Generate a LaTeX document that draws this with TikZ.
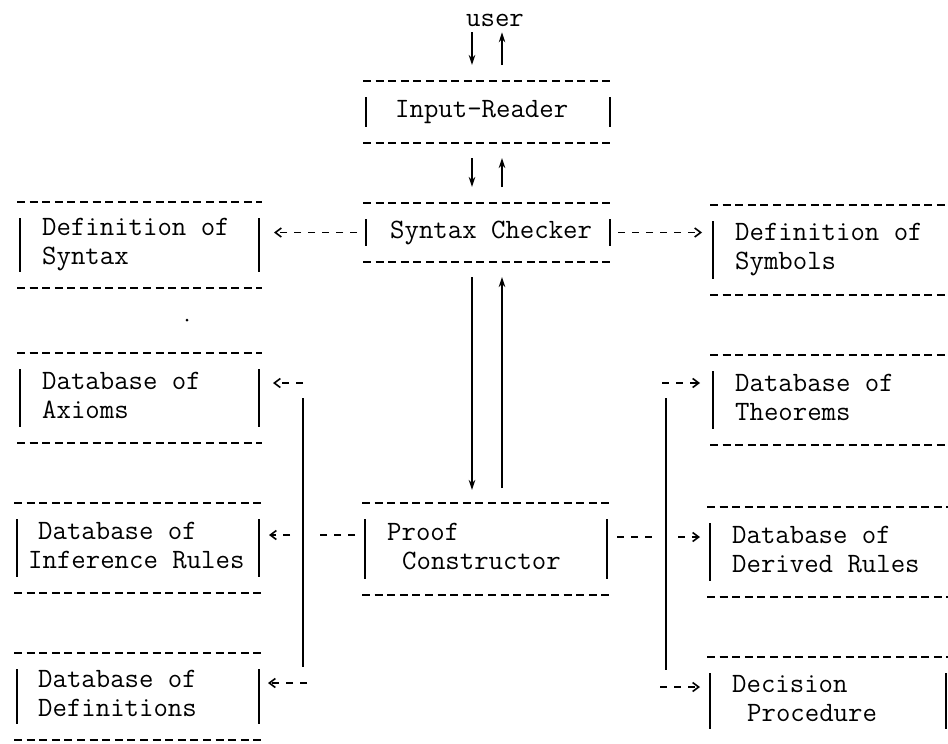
\documentclass[tikz,border=0pt]{standalone}
\usepackage{fontspec}
\usetikzlibrary{arrows.meta,calc}
\newcommand\stru{\rule[-6pt]{0pt}{23pt}}
\begin{document}
\begin{tikzpicture}[x=1pt,y=-1pt,
  abox/.style={inner sep=0pt, outer sep=0pt},
  dline/.style={line width=2pt, dash pattern=on 8pt off 4.6pt},
  bar/.style={line width=1.4pt},
  lbl/.style={inner sep=0pt, anchor=west, align=left, font=\ttfamily\fontsize{28}{29}\selectfont},
  darr/.style={line width=1.8pt, dash pattern=on 7pt off 7pt, -{Straight Barb[length=6pt,width=9pt,line width=1.6pt]}},
  dseg/.style={line width=1.8pt, dash pattern=on 7pt off 7pt},
  sarr/.style={line width=1.3pt, -{Stealth[length=10pt,width=6.5pt]}},
  bus/.style={line width=1.4pt}
]
\useasboundingbox (0,0) rectangle (948,744);
\clip (0,0) rectangle (948,744);

% boxes
\node[abox, minimum width=250, minimum height=62] (ir)   at (488,112)   {};
\node[abox, minimum width=250, minimum height=59] (sc)   at (488,232.5) {};
\node[abox, minimum width=248, minimum height=92] (pc)   at (486,549)   {};
\node[abox, minimum width=245, minimum height=86] (dsyn) at (139.5,245) {};
\node[abox, minimum width=245, minimum height=90] (ax)   at (139.5,398) {};
\node[abox, minimum width=248, minimum height=90] (inf)  at (138,548)   {};
\node[abox, minimum width=248, minimum height=87] (defs) at (138,696.5) {};
\node[abox, minimum width=245, minimum height=90] (sym)  at (832.5,250) {};
\node[abox, minimum width=245, minimum height=90] (thm)  at (832.5,400) {};
\node[abox, minimum width=248, minimum height=90] (der)  at (831,552)   {};
\node[abox, minimum width=242, minimum height=88] (dec)  at (828,701)   {};

\foreach \n in {ir,sc,pc,dsyn,ax,inf,defs,sym,thm,der,dec} {
  \draw[dline] (\n.north west) -- (\n.north east) (\n.south west) -- (\n.south east);
  \draw[bar] ([shift={(3,16)}]\n.north west) -- ([shift={(3,-16)}]\n.south west)
             ([shift={(-3,16)}]\n.north east) -- ([shift={(-3,-16)}]\n.south east);
}

% texts
\node[lbl, anchor=base] (ur) at (495,27) {user};
\node[lbl] (ir-t)   at ([shift={(32,0)}]ir.west)   {\stru Input-Reader};
\node[lbl] (sc-t)   at ([shift={(27,0)}]sc.west)   {\stru Syntax Checker};
\node[lbl] (pc-t)   at ([shift={(25,0)}]pc.west)   {\stru Proof\\\stru\hspace*{15pt}Constructor};
\node[lbl] (dsyn-t) at ([shift={(25,0)}]dsyn.west) {\stru Definition of\\\stru Syntax};
\node[lbl] (ax-t)   at ([shift={(25,0)}]ax.west)   {\stru Database of\\\stru Axioms};
\node[lbl] (inf-t)  at ([shift={(14,0)}]inf.west)  {\stru\hspace*{10pt}Database of\\\stru Inference Rules};
\node[lbl] (defs-t) at ([shift={(24,0)}]defs.west) {\stru Database of\\\stru Definitions};
\node[lbl] (sym-t)  at ([shift={(25,0)}]sym.west)  {\stru Definition of\\\stru Symbols};
\node[lbl] (thm-t)  at ([shift={(25,0)}]thm.west)  {\stru Database of\\\stru Theorems};
\node[lbl] (der-t)  at ([shift={(25,0)}]der.west)  {\stru Database of\\\stru Derived Rules};
\node[lbl] (dec-t)  at ([shift={(25,0)}]dec.west)  {\stru Decision\\\stru\hspace*{15pt}Procedure};

\node[circle, fill, inner sep=0pt, minimum size=3pt] (speck) at (187,320) {};

% solid vertical arrows
\coordinate (ca) at ([shift={(-16,0)}]sc.center);
\coordinate (cb) at ([shift={(14,0)}]sc.center);
\draw[sarr, shorten <=5pt, shorten >=16pt] (ca |- ur.south) -- (ca |- ir.north);
\draw[sarr, shorten <=16pt, shorten >=5pt] (cb |- ir.north) -- (cb |- ur.south);
\draw[sarr, shorten <=15pt, shorten >=16pt] (ca |- ir.south) -- (ca |- sc.north);
\draw[sarr, shorten <=16pt, shorten >=15pt] (cb |- sc.north) -- (cb |- ir.south);
\draw[sarr, shorten <=15pt, shorten >=13pt] (ca |- sc.south) -- (ca |- pc.north);
\draw[sarr, shorten <=15pt, shorten >=15pt] (cb |- pc.north) -- (cb |- sc.south);

% syntax checker side arrows
\draw[darr, shorten <=6pt, shorten >=12pt] (sc.west) -- (sc.west -| dsyn.east);
\draw[darr, shorten <=5pt, shorten >=8pt] (sc.east) -- (sc.east -| sym.west);

% left bus
\coordinate (lbt) at (303,398);
\coordinate (lbb) at (303,667);
\draw[bus] (lbt) -- (lbb);
\coordinate (pl) at ([shift={(0,-14)}]pc.west);
\draw[dseg, shorten <=7pt, shorten >=10pt] (pl) -- (pl -| lbt);
\coordinate (lax) at (303,383);
\draw[darr, shorten >=11pt] (lax) -- (lax -| ax.east);
\coordinate (linf) at (290,535);
\draw[darr, shorten >=7pt] (linf) -- (linf -| inf.east);
\coordinate (ldef) at (307,683);
\draw[darr, shorten >=6pt] (ldef) -- (ldef -| defs.east);

% right bus
\coordinate (rbt) at (666,398);
\coordinate (rbb) at (666,670);
\draw[bus] (rbt) -- (rbb);
\coordinate (pr) at ([shift={(0,-12)}]pc.east);
\draw[dseg, shorten <=7pt, shorten >=11pt] (pr) -- (pr -| rbt);
\coordinate (rthm) at (662,383);
\draw[darr, shorten >=10pt] (rthm) -- (rthm -| thm.west);
\coordinate (rder) at (678,537);
\draw[darr, shorten >=7pt] (rder) -- (rder -| der.west);
\coordinate (rdec) at (660,687);
\draw[darr, shorten >=7pt] (rdec) -- (rdec -| dec.west);
\end{tikzpicture}
\end{document}
